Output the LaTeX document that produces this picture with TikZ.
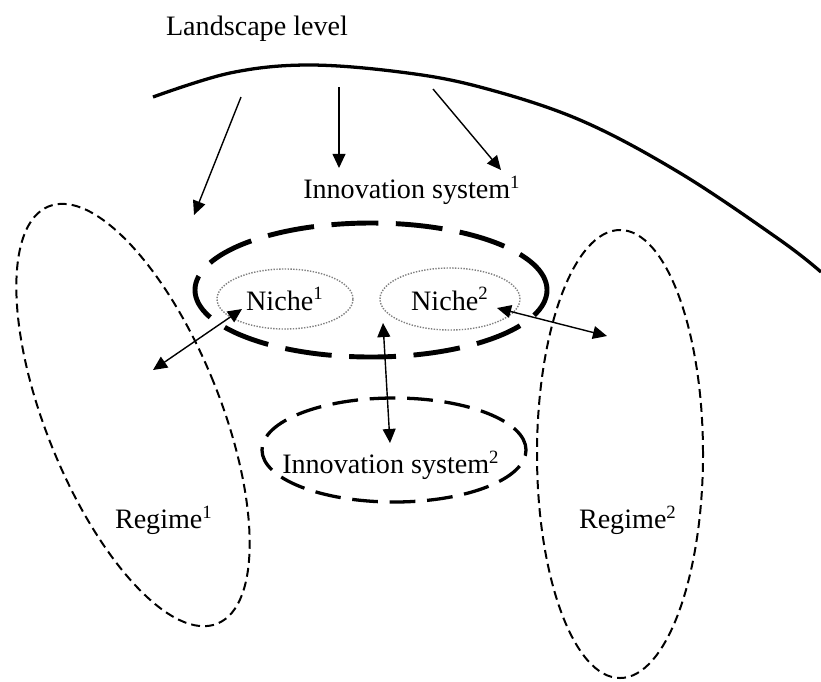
\documentclass[tikz,border=0pt]{standalone}
\usepackage{fontspec}
\setmainfont{Liberation Serif}
\usetikzlibrary{shapes.geometric}
\usetikzlibrary{arrows.meta}

\tikzset{
    blob/.style={ellipse,draw,inner sep=0pt},
    islarge/.style={blob,line width=2.1pt,dash pattern=on 20pt off 7.5pt},
    issmall/.style={blob,line width=1.4pt,dash pattern=on 11pt off 5pt},
    regime/.style={blob,line width=0.85pt,dash pattern=on 3.8pt off 2.2pt},
    niche/.style={blob,draw=gray,line width=0.6pt,dash pattern=on 0.6pt off 0.6pt},
    link/.style={line width=0.6pt,-{Triangle[length=6pt,width=5.5pt]}},
    dlink/.style={line width=0.6pt,{Triangle[length=6pt,width=5.5pt]}-{Triangle[length=6pt,width=5.5pt]}}
}

\begin{document}
\begin{tikzpicture}[x=0.015cm,y=-0.015cm,font=\fontsize{12}{14}\selectfont]
    \useasboundingbox (0,0) rectangle (821,681);
    % landscape
    \node (land) at (257,29) {Landscape level};
    \draw[line width=1.4pt] plot[smooth,tension=0.6] coordinates {(153,97) (230,73) (307,65) (400,72) (480,87) (580,120) (680,173) (780,240) (821,272)};
    % regimes
    \node[regime,minimum width=2.61cm,minimum height=6.75cm,rotate=22] (reg1) at (133,415) {};
    \node[regime,minimum width=2.49cm,minimum height=6.72cm] (reg2) at (620,454) {};
    \node (reg1txt) at (164,520) {Regime\textsuperscript{1}};
    \node (reg2txt) at (628,520) {Regime\textsuperscript{2}};
    % innovation systems
    \node (is1txt) at (412,190) {Innovation system\textsuperscript{1}};
    \node[islarge,minimum width=5.28cm,minimum height=2.01cm] (is1) at (371,290) {};
    \node[issmall,minimum width=3.96cm,minimum height=1.56cm] (is2) at (394,450) {};
    \node (is2txt) at (391,465) {Innovation system\textsuperscript{2}};
    % niches
    \node[niche,minimum width=2.04cm,minimum height=0.90cm] (niche1) at (285,299) {Niche\textsuperscript{1}};
    \node[niche,minimum width=2.10cm,minimum height=0.93cm] (niche2) at (450,299) {Niche\textsuperscript{2}};
    % arrow ends
    \coordinate (l1) at (241,97);
    \coordinate (t1) at (194,215);
    \coordinate (l2) at (339,87);
    \coordinate (t2) at (339,168);
    \coordinate (l3) at (433,89);
    \coordinate (t3) at (501,170);
    \coordinate (n1) at (242,309);
    \coordinate (r1) at (153,370);
    \coordinate (n2) at (383,323);
    \coordinate (s2) at (390,443);
    \coordinate (n3) at (497,308);
    \coordinate (r2) at (607,336);
    \foreach \a/\b in {l1/t1,l2/t2,l3/t3}
        \draw[link] (\a) -- (\b);
    \foreach \a/\b in {n1/r1,n2/s2,n3/r2}
        \draw[dlink] (\a) -- (\b);
\end{tikzpicture}
\end{document}
